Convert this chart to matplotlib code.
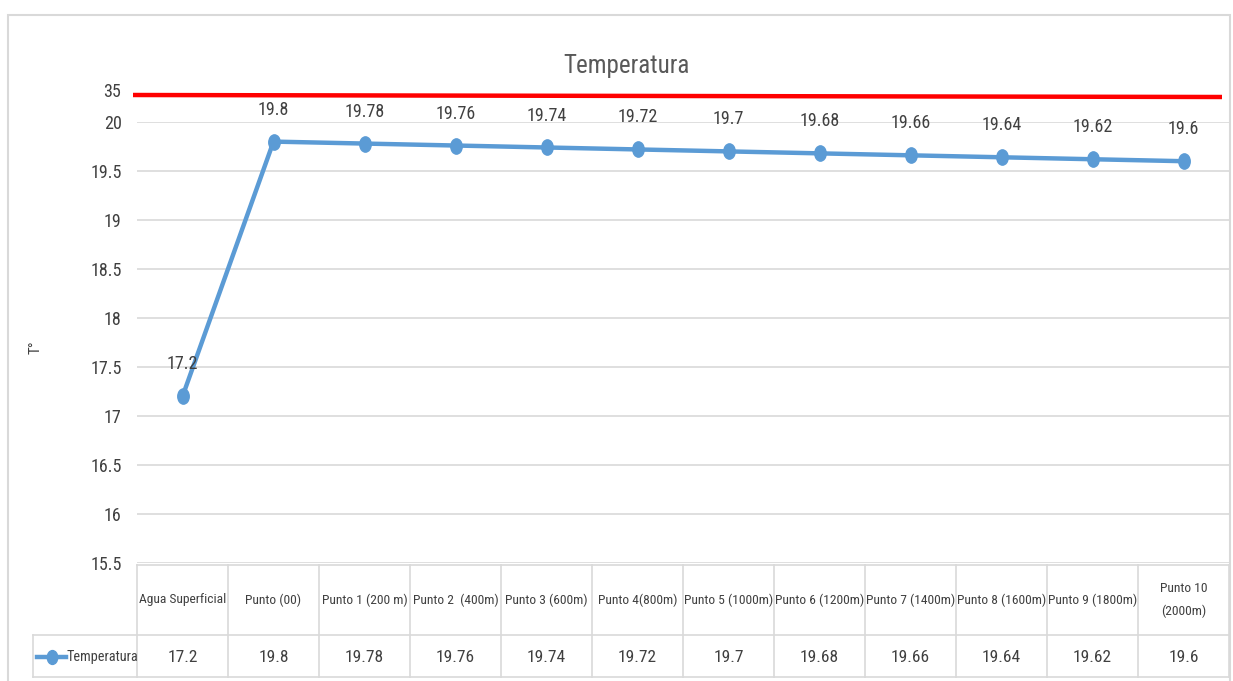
import matplotlib
matplotlib.use("Agg")
import matplotlib.pyplot as plt
from matplotlib import font_manager
from matplotlib.markers import MarkerStyle
from matplotlib.transforms import Affine2D, blended_transform_factory
from matplotlib.lines import Line2D
from matplotlib.patches import Rectangle

# ---- data ----
categories = ["Agua Superficial", "Punto (00)", "Punto 1 (200 m)", "Punto 2  (400m)",
              "Punto 3 (600m)", "Punto 4(800m)", "Punto 5 (1000m)", "Punto 6 (1200m)",
              "Punto 7 (1400m)", "Punto 8 (1600m)", "Punto 9 (1800m)", "Punto 10\n(2000m)"]
temperatura = [17.2, 19.8, 19.78, 19.76, 19.74, 19.72, 19.7, 19.68, 19.66, 19.64, 19.62, 19.6]
value_labels = ["17.2", "19.8", "19.78", "19.76", "19.74", "19.72", "19.7", "19.68",
                "19.66", "19.64", "19.62", "19.6"]
y_ticks = [15.5, 16, 16.5, 17, 17.5, 18, 18.5, 19, 19.5, 20]
y_tick_labels = ["15.5", "16", "16.5", "17", "17.5", "18", "18.5", "19", "19.5", "20"]
limit_label = "35"
series_name = "Temperatura"

# ---- fonts: prefer a narrow / condensed sans face ----
entries = font_manager.fontManager.ttflist
narrow = None
for want in ("Liberation Sans Narrow", "Arial Narrow", "Roboto Condensed",
             "Open Sans Condensed", "DejaVu Sans Condensed", "Noto Sans Condensed"):
    if any(e.name == want for e in entries):
        narrow = {"family": [want, "DejaVu Sans"]}
        break
if narrow is None:
    cond = [e for e in entries
            if "condensed" in str(e.stretch).lower() or "narrow" in e.fname.lower()
            or "condensed" in e.fname.lower()]
    cond = [e for e in cond if "bold" not in e.fname.lower()
            and "italic" not in e.fname.lower() and "oblique" not in e.fname.lower()
            and "mono" not in e.fname.lower() and "serif" not in e.fname.lower()]
    if cond:
        e = cond[0]
        narrow = {"family": [e.name, "DejaVu Sans"], "stretch": e.stretch}

if narrow is not None:
    plt.rcParams["font.family"] = narrow["family"]
    if "stretch" in narrow:
        plt.rcParams["font.stretch"] = narrow["stretch"]
    scale = 1.0
else:
    plt.rcParams["font.family"] = ["Liberation Sans", "DejaVu Sans"]
    scale = 0.85

TEXT = "#404040"
GRID = "#D9D9D9"
BLUE = "#5B9BD5"

W, H = 1233, 681
fig = plt.figure(figsize=(W / 100, H / 100), dpi=100)


def fx(px):
    return px / W


def fy(py):
    return 1 - py / H


# outer chart frame
fig.patches.append(Rectangle((fx(8), fy(690)), fx(1230) - fx(8), fy(15) - fy(690),
                             transform=fig.transFigure, fill=False,
                             edgecolor=GRID, linewidth=1.5))

ax_left, ax_right, ax_top, ax_bot = 137, 1229, 122, 563
ax = fig.add_axes([fx(ax_left), fy(ax_bot), fx(ax_right) - fx(ax_left), fy(ax_top) - fy(ax_bot)])
n = len(categories)
x = list(range(n))
ax.set_xlim(-0.5, n - 0.5)
ax.set_ylim(15.5, 20)
for s in ax.spines.values():
    s.set_visible(False)
ax.set_yticks(y_ticks)
ax.set_yticklabels(y_tick_labels, color=TEXT, fontsize=13 * scale)
ax.tick_params(axis="y", length=0, pad=11)
ax.set_xticks([])
ax.grid(axis="y", color=GRID, linewidth=1.2)
ax.set_axisbelow(True)

marker = MarkerStyle("o", transform=Affine2D().scale(0.75, 1.0))
ax.plot(x, temperatura, color=BLUE, linewidth=3.2, marker=marker,
        markersize=11, markerfacecolor=BLUE, markeredgecolor=BLUE, zorder=3)

for xi, v, lab in zip(x, temperatura, value_labels):
    ax.annotate(lab, (xi, v), xytext=(0, 23), textcoords="offset points",
                ha="center", va="center", color=TEXT, fontsize=13 * scale)

# limit line above the plot area
ax.plot([fx(133), fx(1222)], [fy(95), fy(97)], color="#FF0000", linewidth=3.2,
        transform=fig.transFigure, clip_on=False, solid_capstyle="butt")
fig.text(fx(121), fy(92), limit_label, ha="right", va="center", color=TEXT,
         fontsize=13 * scale)

# title and axis label
fig.text(fx(626), fy(66), "Temperatura", ha="center", va="center", color="#595959",
         fontsize=18 * scale)
fig.text(fx(36), fy(347), "T°", ha="center", va="center", rotation=90, color=TEXT,
         fontsize=11 * scale)

# ---- data table under the plot ----
tr = blended_transform_factory(ax.transData, fig.transFigure)
row_top, row_mid, row_bot = 565, 635, 677
for ry, x0 in ((row_top, ax_left), (row_mid, 33), (row_bot, 33)):
    fig.lines.append(Line2D([fx(x0), fx(ax_right)], [fy(ry)] * 2,
                            color=GRID, linewidth=1.2, transform=fig.transFigure))
fig.lines.append(Line2D([fx(33), fx(33)], [fy(row_mid), fy(row_bot)],
                        color=GRID, linewidth=1.2, transform=fig.transFigure))
for k in range(n + 1):
    xb = k - 0.5
    fig.lines.append(Line2D([xb, xb], [fy(row_top), fy(row_bot)], color=GRID,
                            linewidth=1.2, transform=tr))

for xi, cat, lab in zip(x, categories, value_labels):
    fig.text(xi, fy(600), cat, transform=tr, ha="center", va="center", color=TEXT,
             fontsize=9.7 * scale, linespacing=2.0)
    fig.text(xi, fy(657), lab, transform=tr, ha="center", va="center", color=TEXT,
             fontsize=12.5 * scale)

# legend key inside the table
fig.lines.append(Line2D([fx(37), fx(66)], [fy(657)] * 2, color=BLUE, linewidth=3.2,
                        transform=fig.transFigure))
fig.lines.append(Line2D([fx(51.5)], [fy(657)], color=BLUE, marker=marker, markersize=10,
                        transform=fig.transFigure))
fig.text(fx(67), fy(657), series_name, ha="left", va="center", color=TEXT,
         fontsize=10.3 * scale)

fig.savefig("out.png", dpi=100)
